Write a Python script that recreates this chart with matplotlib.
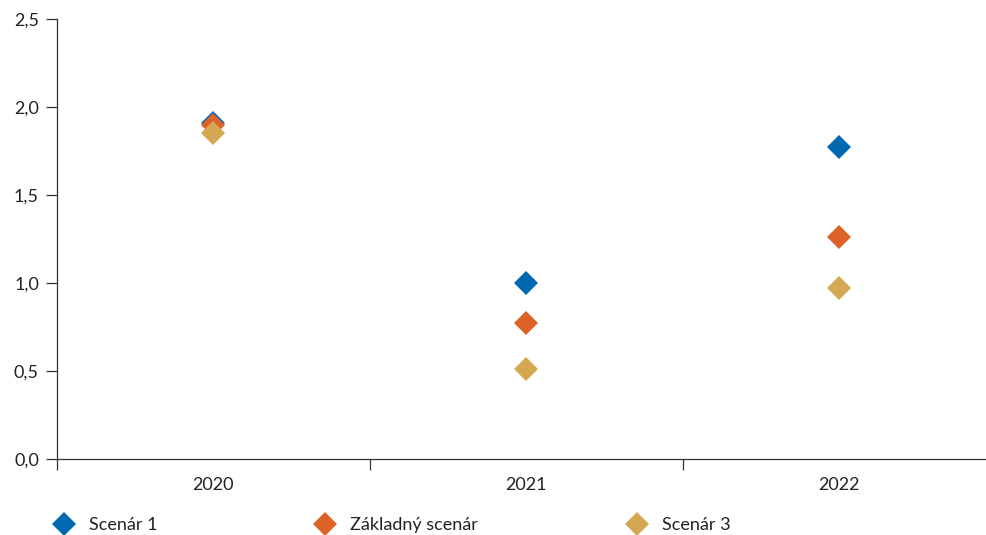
import matplotlib
matplotlib.use("Agg")
import matplotlib.pyplot as plt

plt.rcParams['font.family'] = ['Lato', 'DejaVu Sans']

years = ["2020", "2021", "2022"]
scenar_1 = [1.91, 1.00, 1.77]
zakladny = [1.90, 0.77, 1.26]
scenar_3 = [1.85, 0.51, 0.97]

series = [
    ("Scenár 1", scenar_1, "#0067B1"),
    ("Základný scenár", zakladny, "#DD6228"),
    ("Scenár 3", scenar_3, "#D4A853"),
]

fig = plt.figure(figsize=(9.86, 5.35), dpi=100)
ax = fig.add_axes([57 / 986, 1 - 459 / 535, 1 - 57 / 986, (459 - 19) / 535])

x = list(range(len(years)))
handles = []
for label, vals, color in series:
    h, = ax.plot(x, vals, linestyle="none", marker="D", markersize=12,
                 color=color, markeredgewidth=0, label=label)
    handles.append(h)

ax.set_ylim(0, 2.5)
ax.set_xlim(-0.5, 2.47)
ax.set_yticks([0, 0.5, 1.0, 1.5, 2.0, 2.5])
ax.set_yticklabels(["0,0", "0,5", "1,0", "1,5", "2,0", "2,5"])

# category boundaries as major ticks, labels at centres via minor ticks
ax.set_xticks([-0.5, 0.5, 1.5])
ax.set_xticklabels([])
ax.set_xticks(x, minor=True)
ax.set_xticklabels(years, minor=True)
ax.tick_params(axis="x", which="major", direction="out", length=8, width=0.9, color="#333333")
ax.tick_params(axis="x", which="minor", length=0, pad=13, labelsize=13, labelcolor="#222222")
ax.tick_params(axis="y", direction="out", length=8, width=0.9, color="#333333",
               labelsize=13, labelcolor="#222222", pad=5)

for side in ("top", "right"):
    ax.spines[side].set_visible(False)
for side in ("left", "bottom"):
    ax.spines[side].set_color("#333333")
    ax.spines[side].set_linewidth(0.9)

# legend entries placed along the bottom
legend_x = [55 / 986, 316 / 986, 628 / 986]
for h, lx in zip(handles, legend_x):
    fig.legend(handles=[h], loc="center left", bbox_to_anchor=(lx, 1 - 525 / 535),
               frameon=False, fontsize=13, handlelength=1.0, handletextpad=0.9,
               borderaxespad=0, borderpad=0, labelcolor="#222222")

fig.savefig("out.png", dpi=100)
